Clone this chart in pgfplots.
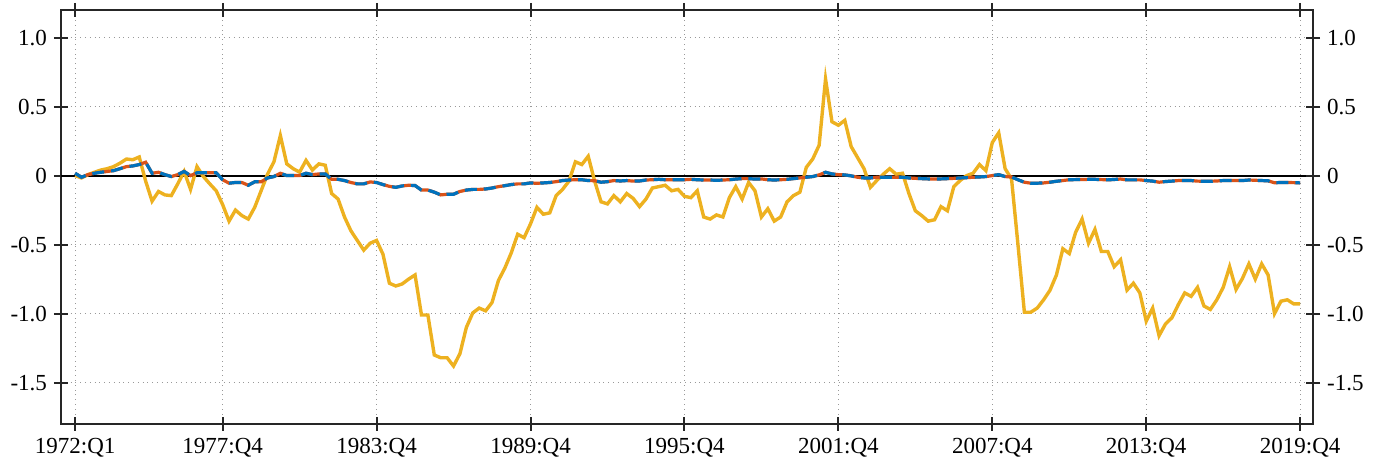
\documentclass[border=0pt]{standalone}
\usepackage{pgfplots}
\usepackage{pgfplotstable}
\usepackage{fontspec}
\setmainfont{Liberation Serif}
\pgfplotsset{compat=1.18}
\definecolor{mblue}{rgb}{0,0.447,0.741}
\definecolor{mred}{rgb}{0.850,0.325,0.098}
\definecolor{myel}{rgb}{0.929,0.694,0.125}
\pgfplotstableread{
i y r
0 0.00 0.017
1 -0.017 -0.012
2 0.007 0.007
3 0.024 0.017
4 0.04 0.024
5 0.05 0.03
6 0.065 0.036
7 0.09 0.05
8 0.12 0.065
9 0.115 0.07
10 0.135 0.08
11 -0.04 0.097
12 -0.185 0.017
13 -0.115 0.024
14 -0.14 0.007
15 -0.145 -0.007
16 -0.06 0.007
17 0.03 0.03
18 -0.10 0.0
19 0.065 0.02
20 -0.007 0.02
21 -0.06 0.02
22 -0.11 0.02
23 -0.21 -0.03
24 -0.33 -0.055
25 -0.25 -0.05
26 -0.29 -0.05
27 -0.315 -0.07
28 -0.23 -0.045
29 -0.11 -0.045
30 0.01 -0.017
31 0.10 -0.007
32 0.29 0.017
33 0.085 0.0
34 0.05 0.0
35 0.025 0.0
36 0.11 0.017
37 0.04 0.007
38 0.085 0.012
39 0.075 0.012
40 -0.13 -0.027
41 -0.17 -0.027
42 -0.30 -0.036
43 -0.40 -0.05
44 -0.47 -0.06
45 -0.54 -0.06
46 -0.49 -0.046
47 -0.47 -0.05
48 -0.57 -0.065
49 -0.78 -0.078
50 -0.80 -0.085
51 -0.785 -0.075
52 -0.75 -0.07
53 -0.72 -0.072
54 -1.01 -0.105
55 -1.01 -0.105
56 -1.30 -0.12
57 -1.32 -0.14
58 -1.32 -0.135
59 -1.38 -0.135
60 -1.29 -0.115
61 -1.10 -0.105
62 -0.995 -0.10
63 -0.96 -0.10
64 -0.98 -0.097
65 -0.92 -0.09
66 -0.76 -0.08
67 -0.67 -0.073
68 -0.56 -0.065
69 -0.425 -0.06
70 -0.45 -0.06
71 -0.35 -0.053
72 -0.23 -0.056
73 -0.28 -0.053
74 -0.27 -0.05
75 -0.145 -0.044
76 -0.10 -0.036
77 -0.04 -0.032
78 0.10 -0.03
79 0.08 -0.03
80 0.14 -0.036
81 -0.04 -0.037
82 -0.19 -0.048
83 -0.205 -0.044
84 -0.145 -0.036
85 -0.19 -0.039
86 -0.13 -0.036
87 -0.165 -0.04
88 -0.225 -0.039
89 -0.17 -0.032
90 -0.09 -0.03
91 -0.08 -0.027
92 -0.07 -0.03
93 -0.11 -0.03
94 -0.10 -0.03
95 -0.15 -0.03
96 -0.16 -0.027
97 -0.11 -0.03
98 -0.30 -0.032
99 -0.315 -0.032
100 -0.285 -0.034
101 -0.30 -0.032
102 -0.16 -0.03
103 -0.08 -0.025
104 -0.17 -0.022
105 -0.05 -0.022
106 -0.11 -0.025
107 -0.30 -0.024
108 -0.24 -0.03
109 -0.33 -0.032
110 -0.30 -0.03
111 -0.19 -0.027
112 -0.145 -0.022
113 -0.12 -0.017
114 0.06 -0.012
115 0.12 -0.007
116 0.22 0.005
117 0.70 0.024
118 0.39 0.012
119 0.365 0.007
120 0.40 0.005
121 0.21 -0.002
122 0.13 -0.012
123 0.05 -0.017
124 -0.085 -0.017
125 -0.035 -0.012
126 0.01 -0.012
127 0.05 -0.012
128 0.01 -0.012
129 0.017 -0.012
130 -0.13 -0.017
131 -0.255 -0.02
132 -0.29 -0.022
133 -0.33 -0.024
134 -0.32 -0.024
135 -0.225 -0.024
136 -0.255 -0.022
137 -0.08 -0.02
138 -0.035 -0.017
139 0.0 -0.015
140 0.017 -0.012
141 0.08 -0.01
142 0.036 -0.007
143 0.24 0.0
144 0.31 0.007
145 0.05 -0.007
146 -0.025 -0.01
147 -0.50 -0.03
148 -0.99 -0.048
149 -0.99 -0.055
150 -0.96 -0.055
151 -0.90 -0.053
152 -0.83 -0.048
153 -0.72 -0.041
154 -0.53 -0.036
155 -0.565 -0.03
156 -0.41 -0.029
157 -0.315 -0.029
158 -0.49 -0.027
159 -0.39 -0.027
160 -0.55 -0.029
161 -0.55 -0.031
162 -0.66 -0.028
163 -0.61 -0.025
164 -0.83 -0.031
165 -0.78 -0.031
166 -0.85 -0.031
167 -1.055 -0.036
168 -0.96 -0.04
169 -1.16 -0.048
170 -1.075 -0.043
171 -1.03 -0.04
172 -0.935 -0.036
173 -0.85 -0.036
174 -0.875 -0.036
175 -0.81 -0.04
176 -0.945 -0.041
177 -0.97 -0.041
178 -0.90 -0.039
179 -0.81 -0.036
180 -0.66 -0.036
181 -0.825 -0.036
182 -0.745 -0.036
183 -0.64 -0.032
184 -0.75 -0.034
185 -0.64 -0.036
186 -0.72 -0.038
187 -1.00 -0.052
188 -0.91 -0.05
189 -0.90 -0.05
190 -0.93 -0.051
191 -0.93 -0.053
}\datatable
\pgfplotsset{
  common/.style={
    width=626pt, height=207pt, scale only axis,
    xmin=-2.2, xmax=193, ymin=-1.8, ymax=1.2,
    ytick={-1.5,-1,-0.5,0,0.5,1},
    yticklabels={-1.5,-1.0,-0.5,0,0.5,1.0},
    tick align=center, major tick length=7pt,
    axis line style={line width=1.1pt, black!85},
    tick style={line width=1pt, black!85},
    ticklabel style={font=\fontsize{11.5}{13}\selectfont, text=black},
  }
}
\begin{document}
\begin{tikzpicture}
\begin{axis}[common,
    xtick={0,23,47,71,95,119,143,167,191},
    xticklabels={1972:Q1,1977:Q4,1983:Q4,1989:Q4,1995:Q4,2001:Q4,2007:Q4,2013:Q4,2019:Q4},
    ytick pos=left,
    grid=major, major grid style={dotted, black!40, line width=0.6pt},
  ]
  \addplot[black, line width=1pt, forget plot] coordinates {(-2.2,0) (193,0)};
  \addplot[myel, line width=1.7pt] table[x=i, y=y] {\datatable};
  \addplot[mred, line width=1.6pt] table[x=i, y=r] {\datatable};
  \addplot[mblue, line width=1.6pt, dash pattern=on 6pt off 3.5pt] table[x=i, y=r] {\datatable};
\end{axis}
\begin{axis}[common,
    axis x line=none, axis y line*=right,
    ytick pos=right, yticklabel pos=right,
  ]
\end{axis}
\pgfresetboundingbox
\path[use as bounding box] ([xshift=-30.5pt,yshift=-20pt]current axis.south west) rectangle ([xshift=36pt,yshift=5pt]current axis.north east);
\end{tikzpicture}
\end{document}
